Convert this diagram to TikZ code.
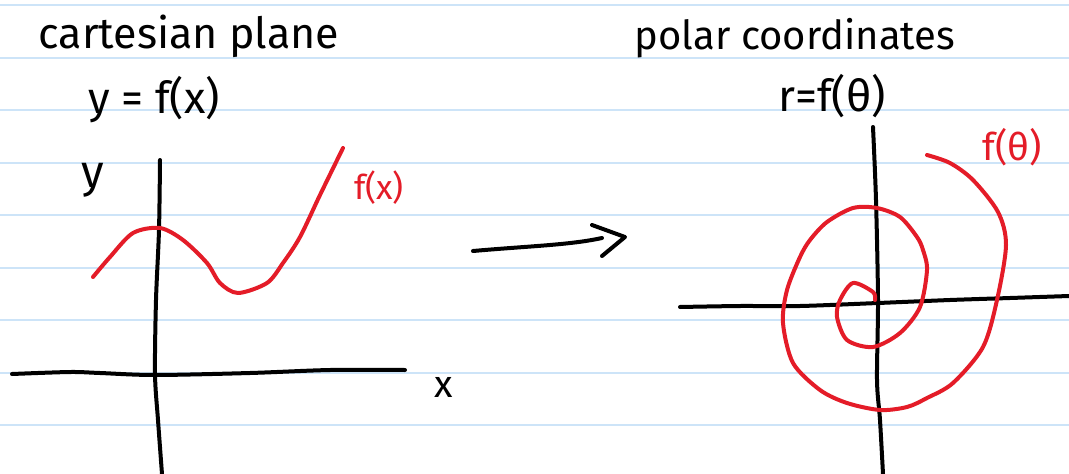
\documentclass[tikz,border=0pt]{standalone}
\usepackage{fontspec}
\setmainfont{Fira Sans}
\definecolor{pen}{RGB}{228,28,40}
\definecolor{ruled}{RGB}{205,228,248}
\begin{document}
\begin{tikzpicture}[x=1pt,y=-1pt,
  ink/.style={line width=4pt,line cap=round,line join=round},
  redink/.style={ink,draw=pen},
  lbl/.style={inner sep=0pt,anchor=center}]
\useasboundingbox (0,0) rectangle (1069,474);
\fill[white] (0,0) rectangle (1069,474);
\foreach \y in {5,57.5,...,470} \draw[ruled,line width=2pt] (0,\y) -- (1069,\y);
% titles
\node[lbl,font=\fontsize{43}{43}\selectfont] (t1) at (189,36) {cartesian plane};
\node[lbl,font=\fontsize{44}{44}\selectfont] (e1) at (154,100) {y = f(x)};
\node[lbl,font=\fontsize{46}{46}\selectfont] (ly) at (93,180) {y};
\node[lbl,font=\fontsize{38}{38}\selectfont] (lx) at (444,387) {x};
\node[lbl,font=\fontsize{34}{34}\selectfont,text=pen] (lf) at (379,188) {f(x)};
\node[lbl,font=\fontsize{40}{40}\selectfont] (t2) at (795,38) {polar coordinates};
\node[lbl,font=\fontsize{44}{44}\selectfont] (e2) at (832,96) {r=f(θ)};
\node[lbl,font=\fontsize{38}{38}\selectfont,text=pen] (lt) at (1012,147) {f(θ)};
% left axes
\draw[ink] plot[smooth] coordinates {(160,160) (159,230) (156,300) (155,374) (158,420) (162,474)};
\draw[ink] plot[smooth] coordinates {(12,374) (70,372) (100,373) (155,375) (250,373) (330,370) (405,370)};
% left curve
\draw[redink] plot[smooth] coordinates {(93,277) (110,257) (133,233) (160,228) (183,240) (207,263) (220,283) (238,293) (267,283) (283,263) (300,237) (320,195) (343,148)};
% arrow
\coordinate (a1) at (473,251);
\coordinate (a2) at (602,238);
\coordinate (h1) at (592,225);
\coordinate (h2) at (625,237);
\coordinate (h3) at (602,256);
\draw[ink] (a1) .. controls (530,246) and (570,245) .. (a2);
\draw[ink] (h1) -- (h2) -- (h3);
% right axes
\draw[ink] plot[smooth] coordinates {(873,127) (876,200) (878,300) (877,380) (880,420) (883,474)};
\draw[ink] plot[smooth] coordinates {(680,307) (740,306) (800,306) (878,303) (950,300) (1010,298) (1069,296)};
% spiral
\draw[redink] plot[smooth] coordinates {(875,300) (873,292) (853,283) (840,300) (837,317) (847,340) (873,347) (900,333) (920,307) (927,270) (923,250) (917,237) (900,217) (877,208) (853,208) (827,222) (810,240) (800,257) (787,290) (783,323) (793,363) (820,390) (847,403) (880,410) (907,407) (927,398) (953,383) (983,347) (997,300) (1006,245) (998,212) (973,180) (950,163) (927,155)};
\end{tikzpicture}
\end{document}
